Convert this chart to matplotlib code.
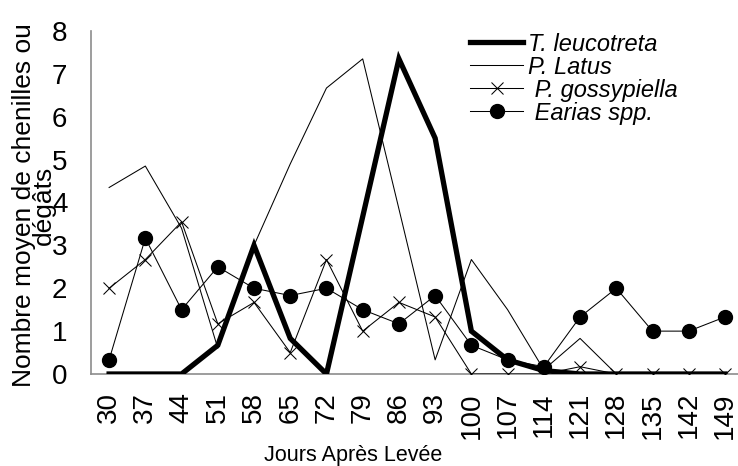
import matplotlib
matplotlib.use("Agg")
import matplotlib.pyplot as plt

plt.rcParams['font.family'] = ['Liberation Sans', 'DejaVu Sans']

# Jours apres levee
jours = ['30', '37', '44', '51', '58', '65', '72', '79', '86', '93',
         '100', '107', '114', '121', '128', '135', '142', '149']

# valeurs
t_leucotreta = [0, 0, 0, 0.67, 3.0, 0.83, 0, 3.67, 7.35, 5.5,
                1.0, 0.33, 0.08, 0, 0, 0, 0, 0]
p_latus = [4.35, 4.85, 3.4, 0.6, 3.0, 4.9, 6.67, 7.35, 3.85, 0.33,
           2.67, 1.5, 0.1, 0.83, 0, 0, 0, 0]
p_gossypiella = [2.0, 2.67, 3.55, 1.17, 1.67, 0.5, 2.67, 1.0, 1.67, 1.33,
                 0, 0, 0, 0.17, 0, 0, 0, 0]
earias = [0.33, 3.17, 1.5, 2.5, 2.0, 1.83, 2.0, 1.5, 1.17, 1.83,
          0.67, 0.33, 0.17, 1.33, 2.0, 1.0, 1.0, 1.33]

fig = plt.figure(figsize=(7.38, 4.66), dpi=100)
ax = fig.add_axes([91/738, 92/466, 647/738, 343/466])

x = range(len(jours))
ax.plot(x, t_leucotreta, color='black', lw=3.8, solid_joinstyle='miter',
        label='T. leucotreta', zorder=3)
ax.plot(x, p_latus, color='black', lw=0.75, label='P. Latus', zorder=2)
ax.plot(x, p_gossypiella, color='black', lw=0.75, marker='x', ms=9,
        mew=0.75, label=' P. gossypiella', zorder=4)
ax.plot(x, earias, color='black', lw=0.75, marker='o', ms=10,
        label=' Earias spp.', zorder=5)

ax.set_xlim(-0.5, 17.36)
ax.set_ylim(0, 8)
ax.set_xticks(list(x))
ax.set_xticklabels(jours, rotation=90, fontsize=20)
ax.set_yticks(range(9))
ax.tick_params(axis='y', labelsize=20, length=0, pad=17)
ax.tick_params(axis='x', length=0, pad=13)

for s in ['top', 'right']:
    ax.spines[s].set_visible(False)
for s in ['left', 'bottom']:
    ax.spines[s].set_color('#8c8c8c')
    ax.spines[s].set_linewidth(1.2)

fig.text(353/738, 5/466, 'Jours Après Levée', ha='center', va='baseline',
         fontsize=15.5)
fig.text(34/738, 1 - 205/466, 'Nombre moyen de chenilles ou\ndégâts',
         rotation=90, ha='center', va='center', fontsize=19,
         multialignment='center', linespacing=0.8)

leg = ax.legend(loc='upper left', bbox_to_anchor=(0.586, 0.995), frameon=False,
                prop={'style': 'italic', 'size': 17}, handlelength=2.25,
                handletextpad=0.2, labelspacing=0.0, borderpad=0,
                borderaxespad=0)

fig.savefig('out.png', dpi=100)
